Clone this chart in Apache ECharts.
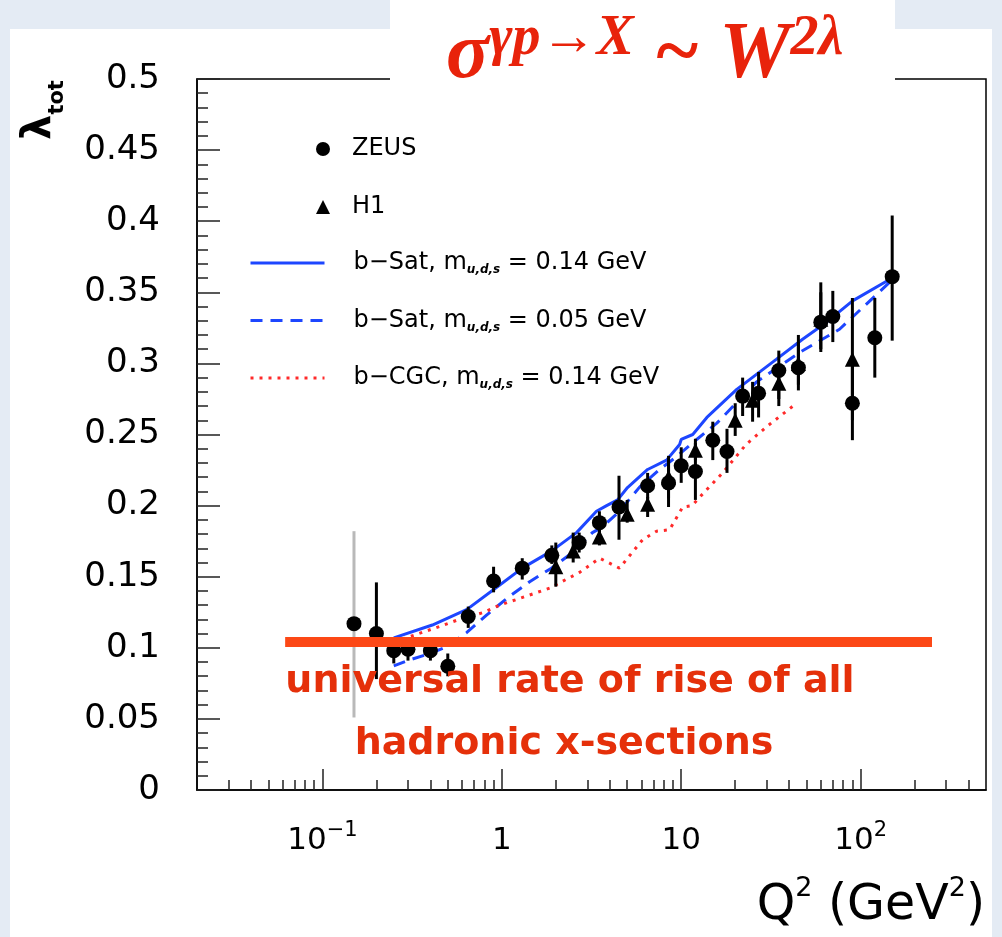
<!DOCTYPE html>
<html><head><meta charset="utf-8">
<script src="https://cdn.jsdelivr.net/npm/echarts@6/dist/echarts.min.js"></script>
<style>html,body{margin:0;padding:0;background:#e4ebf4;}#c{width:1002px;height:937px;}</style>
</head><body><div id="c"></div>
<script>
// ---------- data ----------
const zeusQ2  = [0.15, 0.2, 0.25, 0.3, 0.4, 0.5, 0.65, 0.9, 1.3, 1.9, 2.7, 3.5, 4.5, 6.5, 8.5, 10, 12, 15, 18, 22, 27, 35, 45, 60, 70, 90, 120, 150];
const zeusLam = [0.117, 0.110, 0.098, 0.099, 0.098, 0.087, 0.122, 0.147, 0.156, 0.165, 0.174, 0.188, 0.199, 0.214, 0.216, 0.228, 0.224, 0.246, 0.238, 0.277, 0.279, 0.295, 0.297, 0.329, 0.333, 0.272, 0.318, 0.361];
const zeusLo  = [0.051, 0.078, 0.089, 0.091, 0.091, 0.080, 0.114, 0.139, 0.148, 0.159, 0.167, 0.181, 0.176, 0.205, 0.199, 0.216, 0.204, 0.232, 0.223, 0.263, 0.262, 0.270, 0.281, 0.308, 0.315, 0.246, 0.290, 0.316];
const zeusHi  = [0.182, 0.146, 0.107, 0.106, 0.105, 0.096, 0.129, 0.157, 0.163, 0.172, 0.181, 0.196, 0.221, 0.223, 0.232, 0.241, 0.244, 0.259, 0.254, 0.290, 0.294, 0.309, 0.320, 0.357, 0.351, 0.299, 0.346, 0.404];

const h1Q2  = [2, 2.5, 3.5, 5, 6.5, 8.5, 12, 20, 25, 35, 45, 60, 90];
const h1Lam = [0.157, 0.168, 0.178, 0.194, 0.201, 0.220, 0.239, 0.260, 0.274, 0.286, 0.300, 0.331, 0.303];
const h1Lo  = [0.143, 0.160, 0.172, 0.188, 0.192, 0.205, 0.232, 0.249, 0.259, 0.275, 0.285, 0.310, 0.260];
const h1Hi  = [0.174, 0.181, 0.183, 0.204, 0.206, 0.235, 0.247, 0.272, 0.287, 0.297, 0.315, 0.350, 0.346];

const bSat014Q2  = [0.25, 0.41, 0.64, 0.97, 1.3, 1.89, 2.61, 3.37, 3.84, 4.42, 5.02, 6.5, 8.29, 9.8, 10.0, 11.6, 13.9, 20.4, 34.0, 47.5, 64.6, 90.2, 145];
const bSat014Lam = [0.107, 0.116, 0.127, 0.144, 0.156, 0.168, 0.181, 0.196, 0.200, 0.204, 0.2127, 0.2254, 0.232, 0.243, 0.2465, 0.250, 0.262, 0.2817, 0.303, 0.317, 0.329, 0.344, 0.359];

const bSat005Q2  = [0.25, 0.306, 0.395, 0.491, 0.636, 0.822, 1.10, 1.43, 1.89, 2.48, 3.2, 3.64, 4.53, 5.86, 7.58, 9.43, 12.2, 15.8, 26.3, 45.7, 76.3, 145];
const bSat005Lam = [0.0873, 0.0915, 0.0958, 0.1007, 0.1106, 0.123, 0.136, 0.1465, 0.156, 0.167, 0.181, 0.185, 0.196, 0.213, 0.2254, 0.2345, 0.2465, 0.258, 0.287, 0.3077, 0.324, 0.357];

const bCgcQ2  = [0.25, 0.45, 0.58, 0.78, 0.97, 1.21, 1.85, 2.71, 3.51, 4.53, 6.09, 7.29, 8.61, 10.2, 11.5, 12.7, 17, 23, 30, 42];
const bCgcLam = [0.104, 0.115, 0.120, 0.1246, 0.130, 0.134, 0.142, 0.153, 0.163, 0.156, 0.176, 0.182, 0.183, 0.199, 0.200, 0.206, 0.223, 0.243, 0.2556, 0.270];

const universalQ2  = [0.062, 250];
const universalLam = 0.104;

const xMin = 0.02, xMax = 500;
const xMajorTicks = [0.1, 1, 10, 100];
const xTickLabels = ['{n|10}{s|−1}', '{n|1}', '{n|10}', '{n|10}{s|2}'];
const xMinorTicks = [0.03, 0.04, 0.05, 0.06, 0.07, 0.08, 0.09,
                     0.2, 0.3, 0.4, 0.5, 0.6, 0.7, 0.8, 0.9,
                     2, 3, 4, 5, 6, 7, 8, 9,
                     20, 30, 40, 50, 60, 70, 80, 90,
                     200, 300, 400];
const yMin = 0, yMax = 0.5, yStep = 0.05;

const legendText = {
  'ZEUS': 'ZEUS',
  'H1': 'H1',
  'bSat014': 'b−Sat, m{sub|u,d,s} = 0.14 GeV',
  'bSat005': 'b−Sat, m{sub|u,d,s} = 0.05 GeV',
  'bCGC':    'b−CGC, m{sub|u,d,s} = 0.14 GeV'
};
const titleText = '{a|σ}{b|γp→X}{a| ~ W}{b|2λ}';
const noteLines = ['universal rate of rise of all', 'hadronic x-sections'];

// ---------- build ----------
const zip2 = (a, b) => a.map((v, i) => [v, b[i]]);
const zeusPts = zip2(zeusQ2, zeusLam);
const h1Pts = zip2(h1Q2, h1Lam);
const zeusErr = zeusQ2.map((q, i) => [q, zeusLo[i], zeusHi[i]]);
const h1Err = h1Q2.map((q, i) => [q, h1Lo[i], h1Hi[i]]);

function errRender(grayFirst) {
  return function (params, api) {
    const p1 = api.coord([api.value(0), api.value(1)]);
    const p2 = api.coord([api.value(0), api.value(2)]);
    const col = (grayFirst && params.dataIndex === 0) ? '#b9b9b9' : '#000';
    return { type: 'line', shape: { x1: p1[0], y1: p1[1], x2: p2[0], y2: p2[1] },
             style: { stroke: col, lineWidth: 3 } };
  };
}

const DV = 'DejaVu Sans';
const RED = '#e5300a';
const BLUE = '#1d46ff';

const chart = echarts.init(document.getElementById('c'), null, { renderer: 'canvas' });
const option = {
  backgroundColor: '#e4ebf4',
  animation: false,
  title: {
    text: titleText, left: 446, top: 12, padding: 0, z: 20,
    textStyle: {
      rich: {
        a: { fontFamily: 'Liberation Serif', fontStyle: 'italic', fontWeight: 'bold', fontSize: 80, color: '#e8230b', lineHeight: 84, verticalAlign: 'bottom' },
        b: { fontFamily: 'Liberation Serif', fontStyle: 'italic', fontWeight: 'bold', fontSize: 56, color: '#e8230b', lineHeight: 50, verticalAlign: 'top' }
      }
    }
  },
  grid: { left: 197, right: 16, top: 79, bottom: 147, show: true, borderColor: '#000', borderWidth: 1.5, backgroundColor: 'transparent' },
  xAxis: [{
    type: 'log', logBase: 10, min: xMin, max: xMax, position: 'bottom',
    axisLine: { show: true, onZero: false, lineStyle: { color: '#000', width: 1.5 } },
    axisTick: { show: true, inside: true, length: 21, customValues: xMajorTicks, lineStyle: { color: '#222', width: 1.5 } },
    axisLabel: {
      customValues: xMajorTicks, margin: 30, color: '#000',
      formatter: v => { const i = xMajorTicks.findIndex(t => Math.abs(Math.log10(t) - Math.log10(v)) < 1e-6); return i >= 0 ? xTickLabels[i] : ''; },
      rich: {
        n: { fontFamily: DV, fontSize: 31, lineHeight: 36, color: '#000', verticalAlign: 'bottom', padding: [22, 0, 0, 0] },
        s: { fontFamily: DV, fontSize: 21, lineHeight: 24, color: '#000', verticalAlign: 'top' }
      }
    },
    splitLine: { show: false }, minorTick: { show: false }
  }, {
    type: 'log', logBase: 10, min: xMin, max: xMax, position: 'bottom',
    axisLine: { show: false },
    axisTick: { show: true, inside: true, length: 10, customValues: xMinorTicks, lineStyle: { color: '#222', width: 1.5 } },
    axisLabel: { show: false }, splitLine: { show: false }
  }],
  yAxis: {
    type: 'value', min: yMin, max: yMax, interval: yStep,
    axisLine: { show: true, onZero: false, lineStyle: { color: '#000', width: 1.5 } },
    axisTick: { show: true, inside: true, length: 23, lineStyle: { color: '#222', width: 1.5 } },
    minorTick: { show: true, splitNumber: 5, length: 11, lineStyle: { color: '#222', width: 1.5 } },
    axisLabel: { margin: 37, fontFamily: DV, fontSize: 34, color: '#000' },
    splitLine: { show: false }
  },
  legend: [{
    data: ['ZEUS', 'H1'], orient: 'vertical', left: 316, top: 134, padding: 0,
    itemWidth: 14, itemHeight: 14, itemGap: 28, selectedMode: false,
    formatter: n => legendText[n],
    textStyle: { fontFamily: DV, fontSize: 24, color: '#000', lineHeight: 30, padding: [0, 0, 0, 17] }
  }, {
    data: ['bSat014', 'bSat005', 'bCGC'], orient: 'vertical', left: 249, top: 248, padding: 0,
    itemWidth: 74, itemHeight: 14, itemGap: 27.5, selectedMode: false,
    lineStyle: { width: 3 }, itemStyle: { opacity: 0 },
    formatter: n => legendText[n],
    textStyle: { fontFamily: DV, fontSize: 24, color: '#000', lineHeight: 30, padding: [0, 0, 0, 24],
      rich: { sub: { fontFamily: DV, fontSize: 12, fontWeight: 'bold', fontStyle: 'italic', color: '#000', lineHeight: 12, verticalAlign: 'bottom', padding: [0, 0, 2, 0] } } }
  }],
  graphic: [
    { type: 'rect', z: -100, shape: { x: 10, y: 29, width: 982, height: 908 }, style: { fill: '#ffffff' } },
    { type: 'rect', z: 15, shape: { x: 390, y: 0, width: 505, height: 82 }, style: { fill: '#ffffff' } },
    { type: 'text', z: 30, x: 40, y: 110, rotation: Math.PI / 2,
      style: { text: '{a|λ}{b|tot}', align: 'center', verticalAlign: 'middle',
        rich: { a: { fontFamily: DV, fontSize: 40, fontWeight: 'bold', fill: '#000', lineHeight: 40, verticalAlign: 'middle' },
                b: { fontFamily: DV, fontSize: 21, fontWeight: 'bold', fill: '#000', lineHeight: 18, verticalAlign: 'bottom', padding: [0, 0, -8, 0] } } } },
    { type: 'text', z: 30, x: 985, y: 903,
      style: { text: '{a|Q}{s|2}{a| (GeV}{s|2}{a|)}', align: 'right', verticalAlign: 'middle',
        rich: { a: { fontFamily: DV, fontSize: 49, fill: '#000', lineHeight: 56, verticalAlign: 'bottom' },
                s: { fontFamily: DV, fontSize: 27, fill: '#000', lineHeight: 30, verticalAlign: 'top' } } } },
    { type: 'text', z: 40, x: 570, y: 682, style: { text: noteLines[0], align: 'center', verticalAlign: 'middle', font: 'bold 38px "DejaVu Sans"', fill: RED } },
    { type: 'text', z: 40, x: 564, y: 744, style: { text: noteLines[1], align: 'center', verticalAlign: 'middle', font: 'bold 38px "DejaVu Sans"', fill: RED } }
  ],
  series: [
    { name: 'bSat014', type: 'line', data: zip2(bSat014Q2, bSat014Lam), symbol: 'none', z: 3,
      lineStyle: { color: BLUE, width: 3, type: 'solid' }, itemStyle: { color: BLUE } },
    { name: 'bSat005', type: 'line', data: zip2(bSat005Q2, bSat005Lam), symbol: 'none', z: 3,
      lineStyle: { color: BLUE, width: 3, type: [12, 8] }, itemStyle: { color: BLUE } },
    { name: 'bCGC', type: 'line', data: zip2(bCgcQ2, bCgcLam), symbol: 'none', z: 3,
      lineStyle: { color: '#ff2a2a', width: 3, type: [3, 6] }, itemStyle: { color: '#ff2a2a' } },
    { name: 'zeusErr', type: 'custom', data: zeusErr, encode: { x: 0, y: [1, 2] }, renderItem: errRender(true), z: 4, silent: true },
    { name: 'h1Err', type: 'custom', data: h1Err, encode: { x: 0, y: [1, 2] }, renderItem: errRender(false), z: 4, silent: true },
    { name: 'ZEUS', type: 'scatter', data: zeusPts, symbol: 'circle', symbolSize: 15, z: 5, itemStyle: { color: '#000', opacity: 1 } },
    { name: 'H1', type: 'scatter', data: h1Pts, symbol: 'triangle', symbolSize: 15, z: 5, itemStyle: { color: '#000', opacity: 1 } },
    { name: 'universal', type: 'line', data: universalQ2.map(q => [q, universalLam]), symbol: 'none', z: 8,
      lineStyle: { color: '#fc4816', width: 10, cap: 'butt' } }
  ]
};
chart.setOption(option);
</script></body></html>
